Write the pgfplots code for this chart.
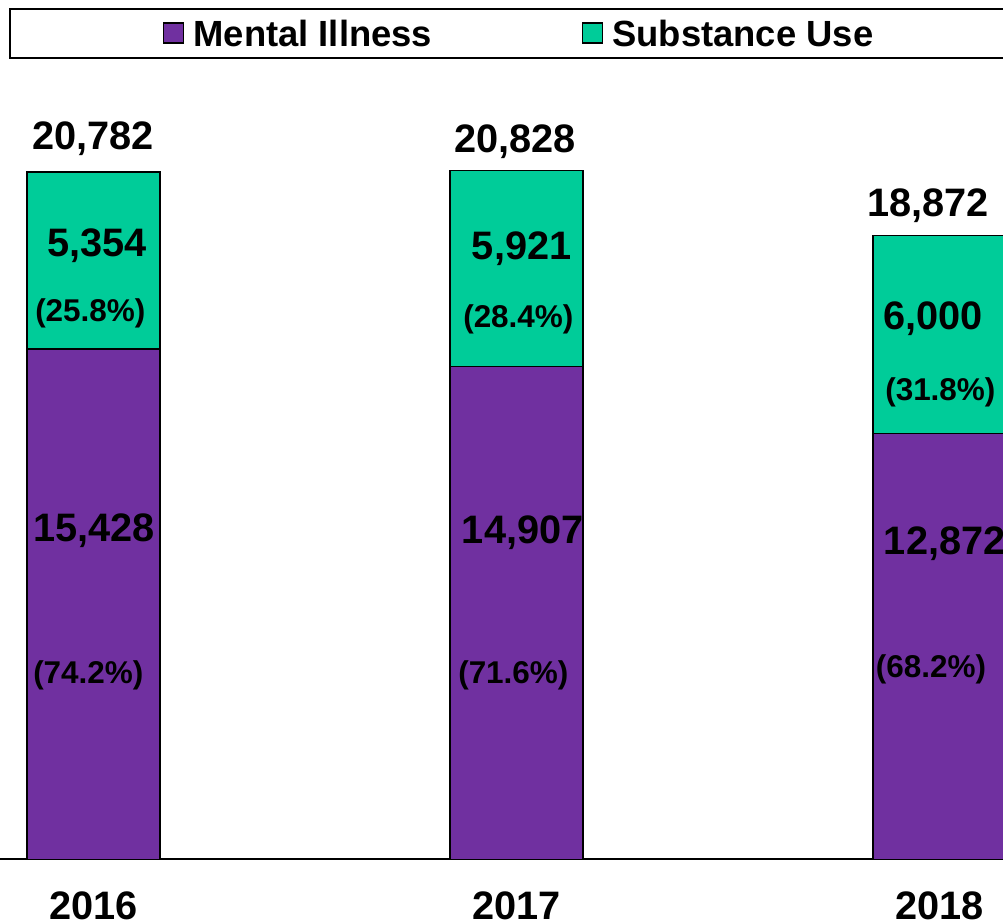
\documentclass[border=0pt]{standalone}
\usepackage{pgfplots}
\pgfplotsset{compat=1.18}
\usepackage{fontspec}
\setmainfont{Liberation Sans}
\definecolor{mi}{HTML}{7030A0}
\definecolor{su}{HTML}{00CC99}
\newcommand{\vf}{\fontsize{29.8}{36}\selectfont\bfseries}
\newcommand{\pf}{\fontsize{23.6}{28}\selectfont\bfseries}
\pgfplotsset{sqlegend/.style={legend image code/.code={\draw[##1, line width=0.9pt] (0pt,-7.5pt) rectangle (15pt,7.5pt);}}}
\tikzset{vl/.style={anchor=base west, inner sep=0pt, font=\vf}, pl/.style={anchor=base west, inner sep=0pt, font=\pf}}
\begin{document}
\begin{tikzpicture}
\useasboundingbox (0,0) rectangle (752.25pt,693pt);
\clip (0,0) rectangle (752.25pt,693pt);
\begin{axis}[
 at={(0pt,48.525pt)}, anchor=south west,
 scale only axis, width=752.25pt, height=644.475pt,
 xmin=-0.22104, xmax=2.15012, ymin=0, ymax=25985,
 ybar stacked, bar width=99.75pt,
 axis x line=bottom, axis y line=none,
 x axis line style={-, line width=1.5pt},
 xtick={0,1,2}, xticklabels={2016,2017,2018},
 major tick length=0pt,
 xticklabel style={font=\vf, anchor=base, yshift=-45pt, inner sep=0pt},
 legend style={at={(axis description cs:0.16251,0.96160)}, anchor=west, draw=none, fill=none, inner sep=0pt, legend columns=2,
   font=\fontsize{27.3}{32}\selectfont\bfseries, nodes={inner sep=0pt, text depth=0pt}, cells={anchor=west},
   /tikz/every odd column/.append style={column sep=6.75pt}, /tikz/every even column/.append style={column sep=112.5pt}},
]
\addplot[fill=mi, draw=black, line width=1pt, sqlegend] coordinates {(0,15428) (1,14907) (2,12872)};
\addplot[fill=su, draw=black, line width=1pt, sqlegend] coordinates {(0,5354) (1,5921) (2,6000)};
\legend{Mental Illness, Substance Use}
% label anchors
\coordinate (t1) at (axis cs:-0.14539,21464);
\coordinate (t2) at (axis cs:0.85225,21359);
\coordinate (t3) at (axis cs:1.82861,19423);
\coordinate (s1) at (axis cs:-0.10993,18214);
\coordinate (sp1) at (axis cs:-0.13830,16248);
\coordinate (s2) at (axis cs:0.89409,18123);
\coordinate (sp2) at (axis cs:0.87352,16067);
\coordinate (s3) at (axis cs:1.86643,16006);
\coordinate (sp3) at (axis cs:1.87116,13868);
\coordinate (m1) at (axis cs:-0.14303,9604);
\coordinate (mp1) at (axis cs:-0.14303,5331);
\coordinate (m2) at (axis cs:0.87045,9535);
\coordinate (mp2) at (axis cs:0.86170,5331);
\coordinate (m3) at (axis cs:1.86809,9202);
\coordinate (mp3) at (axis cs:1.84917,5483);
\end{axis}
\node[vl] at (t1) {20,782};
\node[vl] at (t2) {20,828};
\node[vl] at (t3) {18,872};
\node[vl] at (s1) {5,354};
\node[pl] at (sp1) {(25.8\%)};
\node[vl] at (s2) {5,921};
\node[pl] at (sp2) {(28.4\%)};
\node[vl] at (s3) {6,000};
\node[pl] at (sp3) {(31.8\%)};
\node[vl] at (m1) {15,428};
\node[pl] at (mp1) {(74.2\%)};
\node[vl] at (m2) {14,907};
\node[pl] at (mp2) {(71.6\%)};
\node[vl] at (m3) {12,872};
\node[pl] at (mp3) {(68.2\%)};
\draw[line width=1.2pt] (7.5pt,686.25pt) rectangle (800pt,649.5pt);
\end{tikzpicture}
\end{document}
